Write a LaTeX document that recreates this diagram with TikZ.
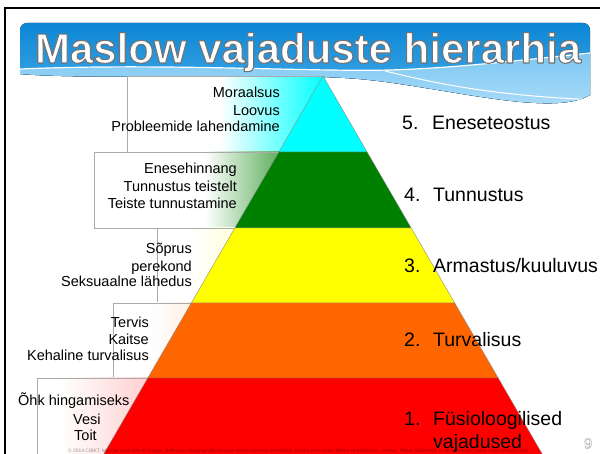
\documentclass[tikz,border=0pt]{standalone}
\usepackage{fontspec}
\setmainfont{Liberation Sans}
\usepackage{graphicx}
\definecolor{lvCyan}{HTML}{00FFFF}
\definecolor{lvGreen}{HTML}{008000}
\definecolor{lvYellow}{HTML}{FFFF00}
\definecolor{lvOrange}{HTML}{FF6600}
\definecolor{lvRed}{HTML}{FF0000}
\definecolor{barTop}{HTML}{0C86D4}
\definecolor{barBot}{HTML}{4DB0EC}
\definecolor{waveTop}{HTML}{7CC7F2}
\definecolor{waveBot}{HTML}{B4E0F9}
\definecolor{boxLine}{HTML}{AAAAAA}
\newcommand\lvbarpath{(20,74) -- (20,30) arc[start angle=180,end angle=270,radius=7] -- (583,23) arc[start angle=270,end angle=360,radius=7] -- (590,95) .. controls (565,110) and (510,102) .. (450,92) .. controls (400,84) and (370,78) .. (320,77) .. controls (200,75) and (80,79) .. (20,74) -- cycle}
% outlined white text: fill + stroke render mode; #1 stroke width, #2 stroke grey, #3 text
\newcommand\lvoutline[3]{\leavevmode{\color{white}\special{pdf:literal direct #2 G #1 w 1 j 2 Tr}#3\special{pdf:literal direct 0 Tr}}}
\begin{document}
\begin{tikzpicture}[x=1pt,y=-1pt,
  band/.style={draw=black!45, line width=0.4pt},
  boxframe/.style={draw=boxLine, line width=0.8pt},
  lefttxt/.style={font=\fontsize{14.5}{17}\selectfont, anchor=base east, inner sep=0pt},
  lefttxtw/.style={lefttxt, anchor=base west},
  numtxt/.style={font=\fontsize{19.5}{22}\selectfont, anchor=base west, inner sep=0pt},
  titlefont/.style={font=\fontsize{42}{42}\selectfont\bfseries, anchor=base, inner sep=0pt},
]
\clip (0,0) rectangle (600,454);
\fill[white] (0,0) rectangle (600,454);

% title bar
\fill[top color=barTop, bottom color=barBot] \lvbarpath;
\begin{scope}
  \clip \lvbarpath;
  \fill[top color=waveTop, bottom color=waveBot] (0,70) .. controls (150,62) and (300,72) .. (390,70) .. controls (460,68) and (540,58) .. (600,52) -- (600,120) -- (0,120) -- cycle;
  \draw[white, line width=1.2pt] (0,70) .. controls (150,62) and (300,72) .. (390,70) .. controls (460,68) and (540,58) .. (600,52);
  \draw[white, line width=1pt] (385,71) .. controls (430,82) and (490,96) .. (600,100);
\end{scope}
\node[titlefont] (title) at (308,63) {\lvoutline{1.1}{0.45}{Maslow vajaduste hierarhia}};

% frame
\draw[black, line width=2pt] (5,456) -- (5,8) -- (602,8);

% boxes
\fill[white] (127,76.5) rectangle (324,152);
\fill[left color=white, right color=lvCyan] (220,76.5) rectangle (324,152);
\draw[boxframe] (127,76.5) rectangle (324,152);

\fill[white] (94,152) rectangle (323,228);
\fill[left color=white, right color=lvGreen] (205,152) rectangle (323,228);
\draw[boxframe] (94,152) rectangle (323,228);

\fill[white] (157,228) rectangle (323,303);
\fill[left color=white, right color=lvYellow!40] (190,228) rectangle (323,303);
\draw[boxframe] (157,228) rectangle (323,303);

\fill[white] (113,303) rectangle (323,378);
\fill[left color=white, right color=lvOrange!45] (150,303) rectangle (323,378);
\draw[boxframe] (113,303) rectangle (323,378);

\fill[white] (37,378) rectangle (323,460);
\fill[left color=white, right color=lvRed!55] (60,378) rectangle (323,460);
\draw[boxframe] (37,378) rectangle (323,460);

% pyramid
\filldraw[band, fill=lvCyan] (323,76) -- (367.1,152) -- (278.9,152) -- cycle;
\filldraw[band, fill=lvGreen] (278.9,152) -- (367.1,152) -- (411.2,228) -- (234.8,228) -- cycle;
\filldraw[band, fill=lvYellow] (234.8,228) -- (411.2,228) -- (454.7,303) -- (191.3,303) -- cycle;
\filldraw[band, fill=lvOrange] (191.3,303) -- (454.7,303) -- (498.2,378) -- (147.8,378) -- cycle;
\filldraw[band, fill=lvRed] (147.8,378) -- (498.2,378) -- (545.7,460) -- (100.3,460) -- cycle;

% left texts
\node[lefttxt] (m1) at (280,97.3) {Moraalsus};
\node[lefttxt] (m2) at (280,115.7) {Loovus};
\node[lefttxt] (m3) at (280,131.7) {Probleemide lahendamine};
\node[lefttxt] (e1) at (237,174) {Enesehinnang};
\node[lefttxt] (e2) at (237,192) {Tunnustus teistelt};
\node[lefttxt] (e3) at (237,208.3) {Teiste tunnustamine};
\node[lefttxt] (s1) at (192,253.3) {Sõprus};
\node[lefttxt] (s2) at (192,271.7) {perekond};
\node[lefttxt] (s3) at (192,286.7) {Seksuaalne lähedus};
\node[lefttxt] (t1) at (149,327.3) {Tervis};
\node[lefttxt] (t2) at (149,345) {Kaitse};
\node[lefttxt] (t3) at (149,361) {Kehaline turvalisus};
\node[lefttxtw] (o1) at (18,406) {Õhk hingamiseks};
\node[lefttxtw] (o2) at (73,424.3) {Vesi};
\node[lefttxtw] (o3) at (74,440) {Toit};

% right labels
\node[numtxt] (n5) at (402,130) {5.};
\node[numtxt] (l5) at (432,130) {Eneseteostus};
\node[numtxt] (n4) at (404,201.7) {4.};
\node[numtxt] (l4) at (433,201.7) {Tunnustus};
\node[numtxt] (n3) at (404,273) {3.};
\node[numtxt] (l3) at (433,273) {Armastus/kuuluvus};
\node[numtxt] (n2) at (404,347) {2.};
\node[numtxt] (l2) at (433,347) {Turvalisus};
\node[numtxt] (n1) at (404,425) {1.};
\node[numtxt] (l1a) at (433,425) {Füsioloogilised};
\node[numtxt] (l1b) at (433,448) {vajadused};

% notice
\node[anchor=base west, inner sep=0pt, text=black, opacity=0.4] (notice) at (68,452.5)
  {\resizebox{462pt}{!}{\fontsize{5}{5}\selectfont © 2014 CIBKT. May be used free of charge. Selling or charging without prior written consent prohibited. Obtain permission before redistribution. Author: Pieter Sikkenhof. In all cases this notice must remain intact.}};

% page number
\node[font=\fontsize{15}{15}\selectfont, inner sep=0pt] (pg) at (588,443.5) {\lvoutline{0.5}{0.72}{9}};
\end{tikzpicture}
\end{document}
